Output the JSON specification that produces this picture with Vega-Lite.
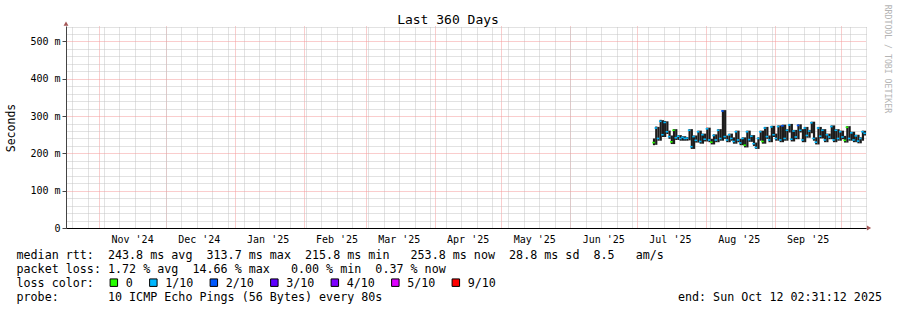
{
  "$schema": "https://vega.github.io/schema/vega-lite/v6.json",
  "width": 800,
  "height": 202,
  "autosize": "none",
  "padding": {"left": 66, "top": 26, "right": 31, "bottom": 82},
  "background": "white",
  "title": {"text": "Last 360 Days", "font": "DejaVu Sans Mono", "fontSize": 13, "fontWeight": "normal", "color": "black", "anchor": "middle", "frame": "group", "dx": -18, "dy": 34.6, "offset": 2, "baseline": "alphabetic"},
  "config": {"view": {"stroke": null}, "font": "DejaVu Sans Mono"},
  "data": {"values": [
    {"d":"2025-07-08T00:00:00","med":229,"lo":222,"hi":240,"loss":"0"},
    {"d":"2025-07-09T00:00:00","med":268,"lo":223,"hi":272,"loss":"1/10"},
    {"d":"2025-07-10T00:00:00","med":240,"lo":234,"hi":271,"loss":"1/10"},
    {"d":"2025-07-11T00:00:00","med":286,"lo":234,"hi":290,"loss":"1/10"},
    {"d":"2025-07-12T00:00:00","med":250,"lo":244,"hi":289,"loss":"1/10"},
    {"d":"2025-07-13T00:00:00","med":283,"lo":244,"hi":287,"loss":"1/10"},
    {"d":"2025-07-14T00:00:00","med":258,"lo":252,"hi":286,"loss":"1/10"},
    {"d":"2025-07-15T00:00:00","med":245,"lo":239,"hi":261,"loss":"1/10"},
    {"d":"2025-07-16T00:00:00","med":231,"lo":225,"hi":248,"loss":"0"},
    {"d":"2025-07-17T00:00:00","med":262,"lo":225,"hi":265,"loss":"0"},
    {"d":"2025-07-18T00:00:00","med":242,"lo":236,"hi":265,"loss":"1/10"},
    {"d":"2025-07-19T00:00:00","med":246,"lo":236,"hi":249,"loss":"1/10"},
    {"d":"2025-07-20T00:00:00","med":240,"lo":234,"hi":249,"loss":"1/10"},
    {"d":"2025-07-21T00:00:00","med":243,"lo":234,"hi":246,"loss":"1/10"},
    {"d":"2025-07-22T00:00:00","med":240,"lo":234,"hi":246,"loss":"1/10"},
    {"d":"2025-07-23T00:00:00","med":241,"lo":234,"hi":244,"loss":"1/10"},
    {"d":"2025-07-24T00:00:00","med":262,"lo":235,"hi":265,"loss":"1/10"},
    {"d":"2025-07-25T00:00:00","med":218,"lo":212,"hi":265,"loss":"1/10"},
    {"d":"2025-07-26T00:00:00","med":245,"lo":212,"hi":248,"loss":"1/10"},
    {"d":"2025-07-27T00:00:00","med":235,"lo":229,"hi":248,"loss":"1/10"},
    {"d":"2025-07-28T00:00:00","med":258,"lo":229,"hi":261,"loss":"1/10"},
    {"d":"2025-07-29T00:00:00","med":232,"lo":226,"hi":261,"loss":"1/10"},
    {"d":"2025-07-30T00:00:00","med":250,"lo":226,"hi":253,"loss":"1/10"},
    {"d":"2025-07-31T00:00:00","med":238,"lo":232,"hi":253,"loss":"1/10"},
    {"d":"2025-08-01T00:00:00","med":266,"lo":232,"hi":269,"loss":"1/10"},
    {"d":"2025-08-02T00:00:00","med":236,"lo":230,"hi":269,"loss":"1/10"},
    {"d":"2025-08-03T00:00:00","med":230,"lo":224,"hi":239,"loss":"0"},
    {"d":"2025-08-04T00:00:00","med":248,"lo":224,"hi":251,"loss":"1/10"},
    {"d":"2025-08-05T00:00:00","med":236,"lo":230,"hi":251,"loss":"1/10"},
    {"d":"2025-08-06T00:00:00","med":262,"lo":230,"hi":265,"loss":"1/10"},
    {"d":"2025-08-07T00:00:00","med":240,"lo":234,"hi":265,"loss":"1/10"},
    {"d":"2025-08-08T00:00:00","med":313.7,"lo":234,"hi":316,"loss":"2/10"},
    {"d":"2025-08-09T00:00:00","med":245,"lo":239,"hi":316,"loss":"1/10"},
    {"d":"2025-08-10T00:00:00","med":236,"lo":230,"hi":248,"loss":"1/10"},
    {"d":"2025-08-11T00:00:00","med":250,"lo":230,"hi":253,"loss":"1/10"},
    {"d":"2025-08-12T00:00:00","med":240,"lo":234,"hi":253,"loss":"1/10"},
    {"d":"2025-08-13T00:00:00","med":232,"lo":226,"hi":243,"loss":"1/10"},
    {"d":"2025-08-14T00:00:00","med":258,"lo":226,"hi":261,"loss":"1/10"},
    {"d":"2025-08-15T00:00:00","med":236,"lo":230,"hi":261,"loss":"1/10"},
    {"d":"2025-08-16T00:00:00","med":228,"lo":222,"hi":239,"loss":"1/10"},
    {"d":"2025-08-17T00:00:00","med":240,"lo":222,"hi":243,"loss":"1/10"},
    {"d":"2025-08-18T00:00:00","med":222,"lo":216,"hi":243,"loss":"0"},
    {"d":"2025-08-19T00:00:00","med":258,"lo":216,"hi":261,"loss":"1/10"},
    {"d":"2025-08-20T00:00:00","med":237,"lo":231,"hi":261,"loss":"1/10"},
    {"d":"2025-08-21T00:00:00","med":246,"lo":231,"hi":249,"loss":"1/10"},
    {"d":"2025-08-22T00:00:00","med":226,"lo":220,"hi":249,"loss":"1/10"},
    {"d":"2025-08-23T00:00:00","med":215.8,"lo":212,"hi":229,"loss":"1/10"},
    {"d":"2025-08-24T00:00:00","med":240,"lo":212,"hi":243,"loss":"1/10"},
    {"d":"2025-08-25T00:00:00","med":258,"lo":234,"hi":261,"loss":"1/10"},
    {"d":"2025-08-26T00:00:00","med":232,"lo":226,"hi":261,"loss":"0"},
    {"d":"2025-08-27T00:00:00","med":268,"lo":226,"hi":271,"loss":"1/10"},
    {"d":"2025-08-28T00:00:00","med":245,"lo":239,"hi":271,"loss":"1/10"},
    {"d":"2025-08-29T00:00:00","med":236,"lo":230,"hi":248,"loss":"1/10"},
    {"d":"2025-08-30T00:00:00","med":271,"lo":230,"hi":274,"loss":"1/10"},
    {"d":"2025-08-31T00:00:00","med":250,"lo":244,"hi":274,"loss":"1/10"},
    {"d":"2025-09-01T00:00:00","med":240,"lo":234,"hi":253,"loss":"1/10"},
    {"d":"2025-09-02T00:00:00","med":272,"lo":234,"hi":275,"loss":"1/10"},
    {"d":"2025-09-03T00:00:00","med":236,"lo":230,"hi":275,"loss":"1/10"},
    {"d":"2025-09-04T00:00:00","med":274,"lo":230,"hi":277,"loss":"2/10"},
    {"d":"2025-09-05T00:00:00","med":240,"lo":234,"hi":277,"loss":"1/10"},
    {"d":"2025-09-06T00:00:00","med":262,"lo":234,"hi":265,"loss":"1/10"},
    {"d":"2025-09-07T00:00:00","med":276,"lo":256,"hi":279,"loss":"1/10"},
    {"d":"2025-09-08T00:00:00","med":238,"lo":232,"hi":279,"loss":"1/10"},
    {"d":"2025-09-09T00:00:00","med":260,"lo":232,"hi":263,"loss":"1/10"},
    {"d":"2025-09-10T00:00:00","med":244,"lo":238,"hi":263,"loss":"1/10"},
    {"d":"2025-09-11T00:00:00","med":275,"lo":238,"hi":278,"loss":"2/10"},
    {"d":"2025-09-12T00:00:00","med":262,"lo":256,"hi":278,"loss":"1/10"},
    {"d":"2025-09-13T00:00:00","med":236,"lo":230,"hi":265,"loss":"1/10"},
    {"d":"2025-09-14T00:00:00","med":268,"lo":230,"hi":271,"loss":"1/10"},
    {"d":"2025-09-15T00:00:00","med":248,"lo":242,"hi":271,"loss":"1/10"},
    {"d":"2025-09-16T00:00:00","med":260,"lo":242,"hi":263,"loss":"1/10"},
    {"d":"2025-09-17T00:00:00","med":282,"lo":254,"hi":285,"loss":"1/10"},
    {"d":"2025-09-18T00:00:00","med":240,"lo":234,"hi":285,"loss":"1/10"},
    {"d":"2025-09-19T00:00:00","med":230,"lo":224,"hi":243,"loss":"1/10"},
    {"d":"2025-09-20T00:00:00","med":268,"lo":224,"hi":271,"loss":"1/10"},
    {"d":"2025-09-21T00:00:00","med":246,"lo":240,"hi":271,"loss":"1/10"},
    {"d":"2025-09-22T00:00:00","med":262,"lo":240,"hi":265,"loss":"1/10"},
    {"d":"2025-09-23T00:00:00","med":236,"lo":230,"hi":265,"loss":"1/10"},
    {"d":"2025-09-24T00:00:00","med":250,"lo":230,"hi":253,"loss":"1/10"},
    {"d":"2025-09-25T00:00:00","med":244,"lo":238,"hi":253,"loss":"1/10"},
    {"d":"2025-09-26T00:00:00","med":272,"lo":238,"hi":275,"loss":"1/10"},
    {"d":"2025-09-27T00:00:00","med":236,"lo":230,"hi":275,"loss":"1/10"},
    {"d":"2025-09-28T00:00:00","med":262,"lo":230,"hi":265,"loss":"1/10"},
    {"d":"2025-09-29T00:00:00","med":240,"lo":234,"hi":265,"loss":"1/10"},
    {"d":"2025-09-30T00:00:00","med":258,"lo":234,"hi":261,"loss":"1/10"},
    {"d":"2025-10-01T00:00:00","med":244,"lo":238,"hi":261,"loss":"1/10"},
    {"d":"2025-10-02T00:00:00","med":235,"lo":229,"hi":247,"loss":"0"},
    {"d":"2025-10-03T00:00:00","med":270,"lo":229,"hi":273,"loss":"0"},
    {"d":"2025-10-04T00:00:00","med":240,"lo":234,"hi":273,"loss":"1/10"},
    {"d":"2025-10-05T00:00:00","med":255,"lo":234,"hi":258,"loss":"1/10"},
    {"d":"2025-10-06T00:00:00","med":236,"lo":230,"hi":258,"loss":"1/10"},
    {"d":"2025-10-07T00:00:00","med":247,"lo":230,"hi":250,"loss":"1/10"},
    {"d":"2025-10-08T00:00:00","med":233,"lo":227,"hi":250,"loss":"1/10"},
    {"d":"2025-10-09T00:00:00","med":240,"lo":227,"hi":243,"loss":"1/10"},
    {"d":"2025-10-10T00:00:00","med":258,"lo":234,"hi":261,"loss":"1/10"},
    {"d":"2025-10-11T00:00:00","med":253.8,"lo":248,"hi":261,"loss":"1/10"}
  ]},
  "layer": [
    {
      "mark": {"type": "bar", "color": "#1c1c1c", "binSpacing": 0, "clip": true},
      "encoding": {
        "x": {
          "field": "d", "type": "temporal", "timeUnit": "yearmonthdate",
          "scale": {"domain": [{"year": 2024, "month": 10, "date": 17, "hours": 2, "minutes": 31, "seconds": 12}, {"year": 2025, "month": 10, "date": 12, "hours": 2, "minutes": 31, "seconds": 12}]},
          "axis": {
            "orient": "bottom",
            "tickCount": {"interval": "month", "step": 1},
            "grid": true, "gridColor": "#f59a9a", "gridDash": [1, 1], "gridOpacity": 1, "gridWidth": 1,
            "ticks": false, "tickSize": 0,
            "labelOffset": 33, "labelPadding": 14, "labelBaseline": "alphabetic", "labelAlign": "center",
            "labelFont": "DejaVu Sans Mono", "labelFontSize": 10, "labelColor": "black",
            "labelOverlap": false, "labelFlush": false, "labelBound": false,
            "labelExpr": "datum.value >= datetime(2025, 9, 1) ? '' : timeFormat(datum.value, \"%b '%y\")",
            "domainColor": "black", "domainWidth": 1,
            "title": [
              "median rtt:\u00a0\u00a0243.8 ms avg\u00a0\u00a0313.7 ms max\u00a0\u00a0215.8 ms min\u00a0\u00a0\u00a0253.8 ms now\u00a0\u00a028.8 ms sd\u00a0\u00a08.5\u00a0\u00a0\u00a0am/s",
              "packet loss: 1.72 % avg\u00a0\u00a014.66 % max\u00a0\u00a0\u00a00.00 % min\u00a0\u00a00.37 % now",
              "loss color:",
              "probe:\u00a0\u00a0\u00a0\u00a0\u00a0\u00a0\u00a010 ICMP Echo Pings (56 Bytes) every 80s\u00a0\u00a0\u00a0\u00a0\u00a0\u00a0\u00a0\u00a0\u00a0\u00a0\u00a0\u00a0\u00a0\u00a0\u00a0\u00a0\u00a0\u00a0\u00a0\u00a0\u00a0\u00a0\u00a0\u00a0\u00a0\u00a0\u00a0\u00a0\u00a0\u00a0\u00a0\u00a0\u00a0\u00a0\u00a0\u00a0\u00a0\u00a0\u00a0\u00a0\u00a0\u00a0end: Sun Oct 12 02:31:12 2025"
            ],
            "titleX": -50, "titleY": 30, "titleAlign": "left", "titleBaseline": "alphabetic", "titleAngle": 0,
            "titleFont": "DejaVu Sans Mono", "titleFontSize": 11.7, "titleFontWeight": "normal", "titleColor": "black",
            "titleLineHeight": 14, "titleLimit": 3000
          }
        },
        "y": {
          "field": "lo", "type": "quantitative",
          "scale": {"domain": [0, 541.5], "nice": false, "zero": false},
          "axis": {
            "orient": "left",
            "values": [0, 100, 200, 300, 400, 500],
            "grid": true, "gridColor": "#f59a9a", "gridDash": [1, 1], "gridOpacity": 1,
            "ticks": true, "tickSize": 4, "tickColor": "#444",
            "labelPadding": 2, "labelFont": "DejaVu Sans Mono", "labelFontSize": 10, "labelColor": "black",
            "labelExpr": "datum.value == 0 ? '0\u00a0\u00a0' : datum.value + ' m'",
            "labelOverlap": false, "labelBound": false, "labelFlush": false,
            "domainColor": "#444",
            "title": "Seconds", "titleX": -55, "titleY": 101.5, "titleAngle": -90, "titleAlign": "center", "titleBaseline": "middle",
            "titleFont": "DejaVu Sans Mono", "titleFontSize": 11.5, "titleFontWeight": "normal", "titleColor": "black"
          }
        },
        "y2": {"field": "hi"}
      }
    },
    {
      "mark": {"type": "tick", "orient": "horizontal", "size": 2.5, "thickness": 1.6, "opacity": 1, "clip": true},
      "encoding": {
        "x": {
          "field": "d", "type": "temporal", "timeUnit": "yearmonthdate", "bandPosition": 0.5,
          "axis": {
            "orient": "top", "tickCount": {"interval": "week", "step": 1},
            "grid": true, "gridColor": "#c4c4c4", "gridDash": [1, 1], "gridOpacity": 1,
            "labels": false, "ticks": false, "domain": false, "title": null
          }
        },
        "y": {
          "field": "med", "type": "quantitative",
          "axis": {
            "orient": "right",
            "values": [20, 40, 60, 80, 120, 140, 160, 180, 220, 240, 260, 280, 320, 340, 360, 380, 420, 440, 460, 480, 520, 540],
            "grid": true, "gridColor": "#c4c4c4", "gridDash": [1, 1], "gridOpacity": 1,
            "labels": false, "ticks": false, "domain": false,
            "title": "RRDTOOL / TOBI OETIKER", "titleAngle": 90, "titleX": 20, "titleY": 32.4, "titleAlign": "center", "titleBaseline": "middle",
            "titleFont": "DejaVu Sans Mono", "titleFontSize": 8.2, "titleFontWeight": "normal", "titleColor": "#b4b4b4"
          }
        },
        "color": {
          "field": "loss", "type": "nominal",
          "scale": {"domain": ["0", "1/10", "2/10", "3/10", "4/10", "5/10", "9/10"], "range": ["#26ff00", "#00b8ff", "#0059ff", "#5e00ff", "#7e00ff", "#dd00ff", "#ff0000"]},
          "legend": {
            "orient": "none", "legendX": 42, "legendY": 250.6, "direction": "horizontal", "title": null, "padding": 0,
            "symbolType": "square", "symbolSize": 56, "symbolStrokeColor": "black", "symbolStrokeWidth": 1, "symbolOpacity": 1,
            "labelFont": "DejaVu Sans Mono", "labelFontSize": 11.7, "labelColor": "black", "labelOffset": 6, "columnPadding": 14.5,
            "values": ["0", "1/10", "2/10", "3/10", "4/10", "5/10", "9/10"],
            "encode": {"symbols": {"update": {"stroke": {"value": "black"}, "strokeWidth": {"value": 1}, "opacity": {"value": 1}}}}
          }
        }
      }
    },
    {
      "data": {"values": [{"what": "y axis arrow"}]},
      "mark": {"type": "point", "shape": "triangle-up", "filled": true, "color": "#7f1010", "size": 24, "clip": false},
      "encoding": {
        "x": {"datum": {"year": 2024, "month": 10, "date": 17, "hours": 2, "minutes": 31, "seconds": 12}, "type": "temporal", "axis": null},
        "y": {"datum": 548, "type": "quantitative", "axis": null}
      }
    },
    {
      "data": {"values": [{"what": "x axis arrow"}]},
      "mark": {"type": "point", "shape": "triangle-right", "filled": true, "color": "#7f1010", "size": 24, "clip": false},
      "encoding": {
        "x": {"datum": {"year": 2025, "month": 10, "date": 13, "hours": 11, "minutes": 0}, "type": "temporal", "axis": null},
        "y": {"datum": 0, "type": "quantitative", "axis": null}
      }
    }
  ],
  "resolve": {"axis": {"x": "independent", "y": "independent"}}
}
